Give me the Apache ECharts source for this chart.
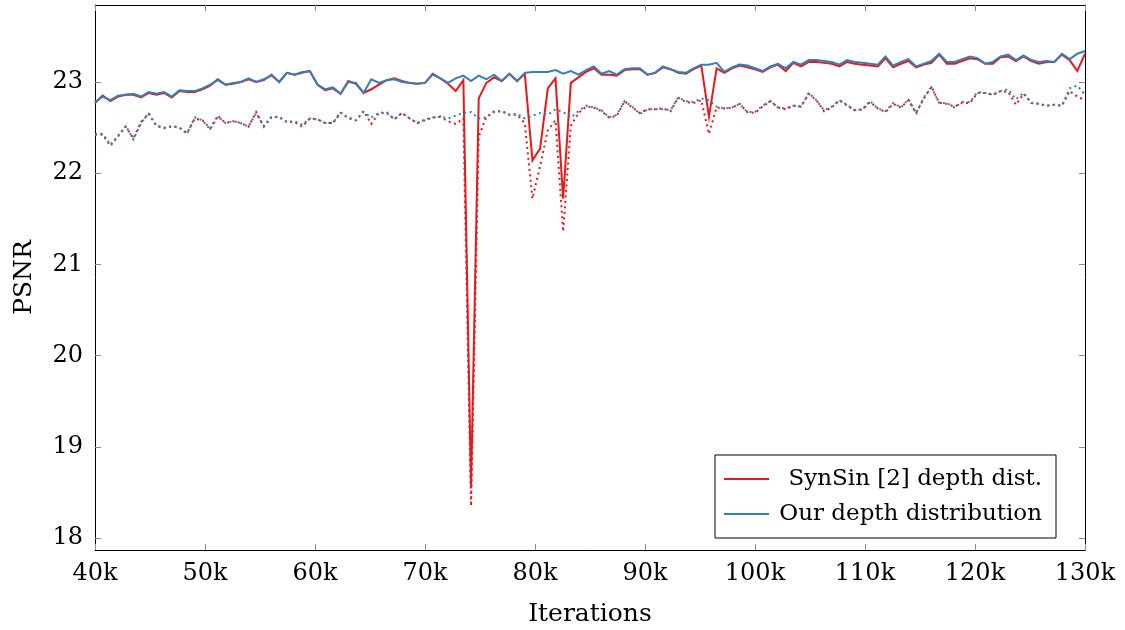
<!DOCTYPE html>
<html>
<head>
<meta charset="utf-8">
<script src="https://cdn.jsdelivr.net/npm/echarts@6/dist/echarts.min.js"></script>
<style>
  html, body { margin: 0; padding: 0; background: #fff; }
  #chart { width: 1125px; height: 630px; }
</style>
</head>
<body>
<div id="chart"></div>
<script>
// PSNR evaluated 130 times, evenly spaced between 40k and 130k iterations
const START_ITER = 40000;
const END_ITER = 130000;
const N_EVAL = 130;
const iterations = Array.from({ length: N_EVAL }, (_, i) => START_ITER + i * (END_ITER - START_ITER) / (N_EVAL - 1));

const yTicks = [18, 19, 20, 21, 22, 23];

const SYN = 'SynSin [2] depth dist.';
const OURS = 'Our depth distribution';

// solid curves
const synSolid = [
  22.77, 22.85, 22.79, 22.84, 22.86, 22.86, 22.83, 22.88, 22.86, 22.88,
  22.83, 22.90, 22.89, 22.89, 22.92, 22.96, 23.03, 22.97, 22.98, 23.00,
  23.03, 23.00, 23.02, 23.08, 23.00, 23.10, 23.08, 23.10, 23.12, 22.97,
  22.91, 22.93, 22.87, 23.01, 22.98, 22.88, 22.92, 22.97, 23.02, 23.04,
  23.01, 22.99, 22.98, 22.99, 23.09, 23.04, 22.98, 22.90, 23.02, 18.55,
  22.82, 22.99, 23.05, 23.01, 23.09, 23.01, 23.09, 22.14, 22.27, 22.93,
  23.04, 21.72, 22.99, 23.05, 23.11, 23.15, 23.08, 23.08, 23.07, 23.13,
  23.14, 23.14, 23.08, 23.10, 23.16, 23.14, 23.10, 23.09, 23.14, 23.18,
  22.62, 23.15, 23.10, 23.15, 23.18, 23.16, 23.14, 23.11, 23.16, 23.19,
  23.12, 23.21, 23.17, 23.22, 23.22, 23.21, 23.20, 23.17, 23.22, 23.20,
  23.19, 23.18, 23.17, 23.26, 23.16, 23.20, 23.23, 23.16, 23.19, 23.21,
  23.30, 23.20, 23.20, 23.23, 23.26, 23.25, 23.20, 23.20, 23.27, 23.28,
  23.23, 23.28, 23.23, 23.20, 23.22, 23.22, 23.30, 23.24, 23.12, 23.31
];
const oursSolid = [
  22.78, 22.84, 22.80, 22.85, 22.86, 22.87, 22.84, 22.89, 22.87, 22.89,
  22.84, 22.91, 22.90, 22.90, 22.93, 22.97, 23.02, 22.97, 22.99, 23.00,
  23.04, 23.00, 23.03, 23.07, 23.00, 23.10, 23.08, 23.11, 23.12, 22.97,
  22.92, 22.94, 22.87, 23.00, 22.99, 22.88, 23.03, 22.99, 23.02, 23.03,
  23.00, 22.99, 22.98, 22.99, 23.08, 23.04, 22.99, 23.04, 23.07, 23.01,
  23.07, 23.03, 23.08, 23.01, 23.09, 23.01, 23.10, 23.11, 23.11, 23.11,
  23.13, 23.09, 23.12, 23.08, 23.13, 23.17, 23.09, 23.12, 23.08, 23.14,
  23.15, 23.15, 23.08, 23.10, 23.17, 23.14, 23.11, 23.10, 23.15, 23.19,
  23.19, 23.21, 23.11, 23.16, 23.19, 23.18, 23.15, 23.12, 23.17, 23.20,
  23.15, 23.22, 23.19, 23.24, 23.24, 23.23, 23.22, 23.19, 23.24, 23.22,
  23.21, 23.20, 23.19, 23.28, 23.18, 23.22, 23.25, 23.17, 23.20, 23.23,
  23.31, 23.22, 23.22, 23.25, 23.28, 23.26, 23.20, 23.22, 23.28, 23.30,
  23.24, 23.29, 23.24, 23.22, 23.23, 23.22, 23.31, 23.25, 23.31, 23.34
];

// dotted curves
const synDotted = [
  22.43, 22.43, 22.31, 22.41, 22.51, 22.38, 22.56, 22.65, 22.52, 22.50,
  22.51, 22.50, 22.44, 22.60, 22.58, 22.49, 22.63, 22.55, 22.57, 22.55,
  22.51, 22.67, 22.51, 22.61, 22.62, 22.56, 22.56, 22.51, 22.60, 22.59,
  22.55, 22.55, 22.66, 22.61, 22.58, 22.68, 22.54, 22.66, 22.66, 22.59,
  22.66, 22.60, 22.55, 22.58, 22.61, 22.62, 22.57, 22.54, 22.60, 18.35,
  22.40, 22.62, 22.67, 22.68, 22.64, 22.64, 22.55, 21.72, 22.08, 22.47,
  22.58, 21.36, 22.52, 22.66, 22.73, 22.72, 22.68, 22.61, 22.63, 22.79,
  22.72, 22.66, 22.70, 22.70, 22.71, 22.68, 22.83, 22.78, 22.77, 22.80,
  22.43, 22.72, 22.71, 22.72, 22.76, 22.67, 22.66, 22.73, 22.79, 22.72,
  22.70, 22.74, 22.73, 22.87, 22.80, 22.68, 22.72, 22.80, 22.74, 22.69,
  22.70, 22.78, 22.71, 22.67, 22.76, 22.72, 22.80, 22.66, 22.82, 22.95,
  22.77, 22.76, 22.73, 22.77, 22.77, 22.88, 22.88, 22.86, 22.90, 22.89,
  22.75, 22.87, 22.77, 22.76, 22.74, 22.75, 22.74, 22.90, 22.84, 22.80
];
const oursDotted = [
  22.42, 22.42, 22.30, 22.40, 22.52, 22.37, 22.55, 22.66, 22.52, 22.49,
  22.52, 22.50, 22.43, 22.61, 22.58, 22.48, 22.62, 22.55, 22.57, 22.55,
  22.51, 22.66, 22.52, 22.62, 22.61, 22.56, 22.57, 22.53, 22.60, 22.59,
  22.55, 22.55, 22.67, 22.60, 22.58, 22.67, 22.61, 22.66, 22.67, 22.59,
  22.66, 22.60, 22.55, 22.59, 22.61, 22.62, 22.60, 22.63, 22.66, 22.67,
  22.60, 22.61, 22.68, 22.68, 22.64, 22.65, 22.60, 22.63, 22.66, 22.64,
  22.70, 22.67, 22.61, 22.68, 22.74, 22.72, 22.69, 22.61, 22.64, 22.79,
  22.73, 22.65, 22.70, 22.70, 22.70, 22.69, 22.83, 22.79, 22.78, 22.82,
  22.80, 22.73, 22.71, 22.72, 22.76, 22.67, 22.67, 22.74, 22.79, 22.72,
  22.71, 22.74, 22.73, 22.88, 22.80, 22.69, 22.73, 22.80, 22.75, 22.69,
  22.70, 22.79, 22.71, 22.68, 22.77, 22.72, 22.81, 22.66, 22.83, 22.94,
  22.77, 22.77, 22.72, 22.78, 22.78, 22.89, 22.88, 22.86, 22.90, 22.92,
  22.81, 22.88, 22.77, 22.76, 22.74, 22.75, 22.74, 22.93, 22.96, 22.86
];

const RED = '#e41a1c';
const BLUE = '#377eb8';
const FONT = 'DejaVu Serif';
const TICK_GRAY = '#8c8c8c';

const pairs = (ys) => iterations.map((x, i) => [x, ys[i]]);

function lineSeries(name, ys, color, dotted) {
  return {
    name: name,
    type: 'line',
    data: pairs(ys),
    symbol: 'none',
    showSymbol: false,
    animation: false,
    silent: true,
    lineStyle: {
      color: color,
      width: 2,
      type: dotted ? [2, 3.5] : 'solid',
      cap: 'butt',
      join: 'miter'
    },
    itemStyle: { color: color }
  };
}

const chart = echarts.init(document.getElementById('chart'), null, { renderer: 'canvas' });

const tickStyle = { show: true, inside: true, length: 6, lineStyle: { color: TICK_GRAY, width: 1 } };
const frameLine = { show: true, onZero: false, lineStyle: { color: '#000', width: 1 } };

chart.setOption({
  backgroundColor: '#fff',
  animation: false,
  grid: { left: 95, right: 40, top: 5, bottom: 80, containLabel: false, outerBoundsMode: 'none' },
  xAxis: [
    {
      type: 'value',
      min: START_ITER,
      max: END_ITER,
      interval: 10000,
      position: 'bottom',
      name: 'Iterations',
      nameLocation: 'middle',
      nameGap: 52,
      nameTextStyle: { fontFamily: FONT, fontSize: 25, color: '#000' },
      axisLine: frameLine,
      axisTick: tickStyle,
      splitLine: { show: false },
      axisLabel: {
        fontFamily: FONT, fontSize: 24, color: '#000', margin: 12,
        formatter: (v) => (v / 1000) + 'k'
      }
    },
    {
      type: 'value',
      min: START_ITER,
      max: END_ITER,
      interval: 10000,
      position: 'top',
      axisLine: frameLine,
      axisTick: tickStyle,
      splitLine: { show: false },
      axisLabel: { show: false }
    }
  ],
  yAxis: [
    {
      type: 'value',
      min: 17.868,
      max: 23.844,
      position: 'left',
      name: 'PSNR',
      nameLocation: 'middle',
      nameGap: 58,
      nameRotate: 90,
      nameTextStyle: { fontFamily: FONT, fontSize: 25, color: '#000' },
      axisLine: frameLine,
      axisTick: Object.assign({}, tickStyle, { customValues: yTicks }),
      splitLine: { show: false },
      axisLabel: {
        fontFamily: FONT, fontSize: 24, color: '#000', margin: 12,
        customValues: yTicks
      }
    },
    {
      type: 'value',
      min: 17.868,
      max: 23.844,
      position: 'right',
      axisLine: frameLine,
      axisTick: Object.assign({}, tickStyle, { customValues: yTicks }),
      splitLine: { show: false },
      axisLabel: { show: false }
    }
  ],
  legend: {
    data: [
      { name: SYN, icon: 'rect', itemStyle: { color: RED } },
      { name: OURS, icon: 'rect', itemStyle: { color: BLUE } }
    ],
    orient: 'vertical',
    left: 715,
    top: 455,
    padding: [11, 14, 11, 9],
    itemGap: 9,
    itemWidth: 45,
    itemHeight: 2,
    backgroundColor: '#fff',
    borderColor: '#000',
    borderWidth: 1,
    borderRadius: 0,
    selectedMode: false,
    formatter: (name) => '{t|' + name + '}',
    textStyle: {
      rich: {
        t: { width: 268, height: 26, align: 'right', fontFamily: FONT, fontSize: 23, color: '#000', lineHeight: 26 }
      }
    }
  },
  series: [
    lineSeries(SYN, synSolid, RED, false),
    lineSeries(OURS, oursSolid, BLUE, false),
    lineSeries(SYN + ' (dotted)', synDotted, RED, true),
    lineSeries(OURS + ' (dotted)', oursDotted, BLUE, true)
  ]
});
</script>
</body>
</html>
